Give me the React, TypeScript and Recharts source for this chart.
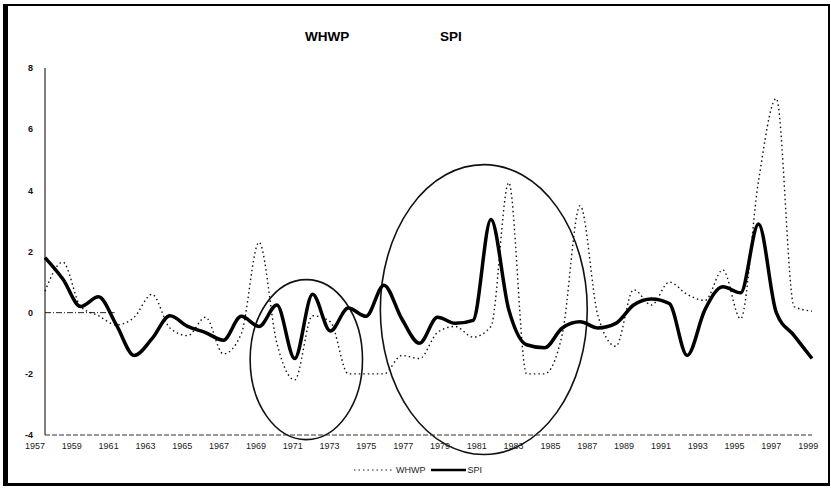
import React from 'react'
import {
  LineChart,
  Line,
  XAxis,
  YAxis,
  ReferenceArea,
  ReferenceLine,
} from 'recharts'

// years on the category axis
const years = [
  1957, 1958, 1959, 1960, 1961, 1962, 1963, 1964, 1965, 1966, 1967,
  1968, 1969, 1970, 1971, 1972, 1973, 1974, 1975, 1976, 1977, 1978,
  1979, 1980, 1981, 1982, 1983, 1984, 1985, 1986, 1987, 1988, 1989,
  1990, 1991, 1992, 1993, 1994, 1995, 1996, 1997, 1998, 1999, 2000,
]

// SPI (thick solid)
const spi = [
  1.8, 1.1, 0.2, 0.52, -0.4, -1.4, -0.85, -0.1, -0.45, -0.65, -0.9,
  -0.12, -0.45, 0.25, -1.5, 0.6, -0.6, 0.15, -0.12, 0.9, -0.2, -1.0,
  -0.15, -0.35, -0.25, 3.05, 0.1, -1.05, -1.15, -0.5, -0.3, -0.5, -0.35,
  0.25, 0.45, 0.3, -1.4, 0.1, 0.85, 0.65, 2.9, 0.0, -0.75, -1.5,
]

// WHWP (dotted)
const whwp = [
  0.7, 1.65, 0.2, -0.1, -0.4, -0.15, 0.6, -0.5, -0.75, -0.15, -1.35,
  -0.7, 2.3, -1.0, -2.2, -0.1, -0.3, -2.0, -2.0, -2.0, -1.4, -1.5,
  -0.65, -0.45, -0.8, -0.45, 4.25, -2.0, -2.0, -0.7, 3.5, -0.1, -1.1,
  0.75, 0.25, 1.0, 0.6, 0.4, 1.4, -0.2, 4.3, 7.0, 0.2, 0.05,
]

const xTicks = [
  1957, 1959, 1961, 1963, 1965, 1967, 1969, 1971, 1973, 1975, 1977,
  1979, 1981, 1983, 1985, 1987, 1989, 1991, 1993, 1995, 1997, 1999,
]
const yTicks = [-4, -2, 0, 2, 4, 6, 8]

// hand-drawn circles around the two periods (data space bounds)
const smallRing = { x1: 1968.5, x2: 1974.8, y1: -4.15, y2: 1.08 }
const bigRing = { x1: 1975.8, x2: 1987.4, y1: -4.64, y2: 4.84 }

const data = years.map((year, i) => ({ year, spi: spi[i], whwp: whwp[i] }))

const font = 'Arial, "Liberation Sans", sans-serif'

function ellipseShape(p: any) {
  return (
    <ellipse
      cx={p.x + p.width / 2}
      cy={p.y + p.height / 2}
      rx={Math.abs(p.width) / 2}
      ry={Math.abs(p.height) / 2}
      fill="none"
      stroke="#111"
      strokeWidth={1.6}
    />
  )
}

// the printed labels run a little wider than the plotted years
function YearTick(props: any) {
  const { x, y, payload, index } = props
  const shift = -10 + (index * 24) / (xTicks.length - 1)
  return (
    <text
      x={x + shift}
      y={y}
      dy="0.71em"
      textAnchor="middle"
      fill="#222"
      fontSize={9}
      fontFamily={font}
    >
      {payload.value}
    </text>
  )
}

export default function App() {
  return (
    <div
      style={{
        position: 'absolute',
        left: 0,
        top: 0,
        width: 831,
        height: 489,
        background: '#fff',
        fontFamily: font,
      }}
    >
      <div
        style={{
          position: 'absolute',
          left: 3,
          top: 4,
          width: 820,
          height: 477,
          borderLeft: '5px solid #000',
          borderTop: '2px solid #000',
          borderRight: '2px solid #000',
          borderBottom: '3px solid #000',
        }}
      />
      <div style={{ position: 'absolute', left: 305, top: 29, fontSize: 13.5, fontWeight: 700 }}>WHWP</div>
      <div style={{ position: 'absolute', left: 440, top: 29, fontSize: 13.5, fontWeight: 700 }}>SPI</div>

      <LineChart
        width={831}
        height={489}
        data={data}
        margin={{ top: 68, right: 19, left: 0, bottom: 34 }}
        style={{ position: 'absolute', left: 0, top: 0 }}
      >
        <XAxis
          dataKey="year"
          type="number"
          domain={[1957, 2000]}
          ticks={xTicks}
          interval={0}
          height={20}
          tickSize={0}
          tickMargin={8}
          tick={<YearTick />}
          axisLine={{ stroke: '#333', strokeDasharray: '5 2' }}
        />
        <YAxis
          domain={[-4, 8]}
          ticks={yTicks}
          width={45}
          tickSize={0}
          tickMargin={12}
          tick={{ fill: '#111', fontSize: 9, fontWeight: 700, fontFamily: font }}
          axisLine={{ stroke: '#000' }}
        />
        <ReferenceLine
          segment={[{ x: 1957, y: 0 }, { x: 1960.9, y: 0 }]}
          stroke="#222"
          strokeDasharray="6 2 1 2"
        />
        <Line
          type="monotone"
          dataKey="whwp"
          stroke="#111"
          strokeWidth={1.4}
          strokeDasharray="1.5 3"
          dot={false}
          isAnimationActive={false}
        />
        <Line
          type="monotone"
          dataKey="spi"
          stroke="#000"
          strokeWidth={3.5}
          dot={false}
          isAnimationActive={false}
        />
        <ReferenceArea {...smallRing} ifOverflow="visible" shape={ellipseShape} />
        <ReferenceArea {...bigRing} ifOverflow="visible" shape={ellipseShape} />
      </LineChart>

      <div
        style={{
          position: 'absolute',
          left: 352,
          top: 465,
          display: 'flex',
          alignItems: 'center',
          fontSize: 9,
          color: '#222',
        }}
      >
        <svg width={44} height={8}>
          <line x1={2} y1={4} x2={42} y2={4} stroke="#222" strokeWidth={1.2} strokeDasharray="1.5 3" />
        </svg>
        <span>WHWP</span>
        <svg width={38} height={8} style={{ marginLeft: 4 }}>
          <line x1={1} y1={4} x2={36} y2={4} stroke="#000" strokeWidth={2.5} />
        </svg>
        <span>SPI</span>
      </div>
    </div>
  )
}
